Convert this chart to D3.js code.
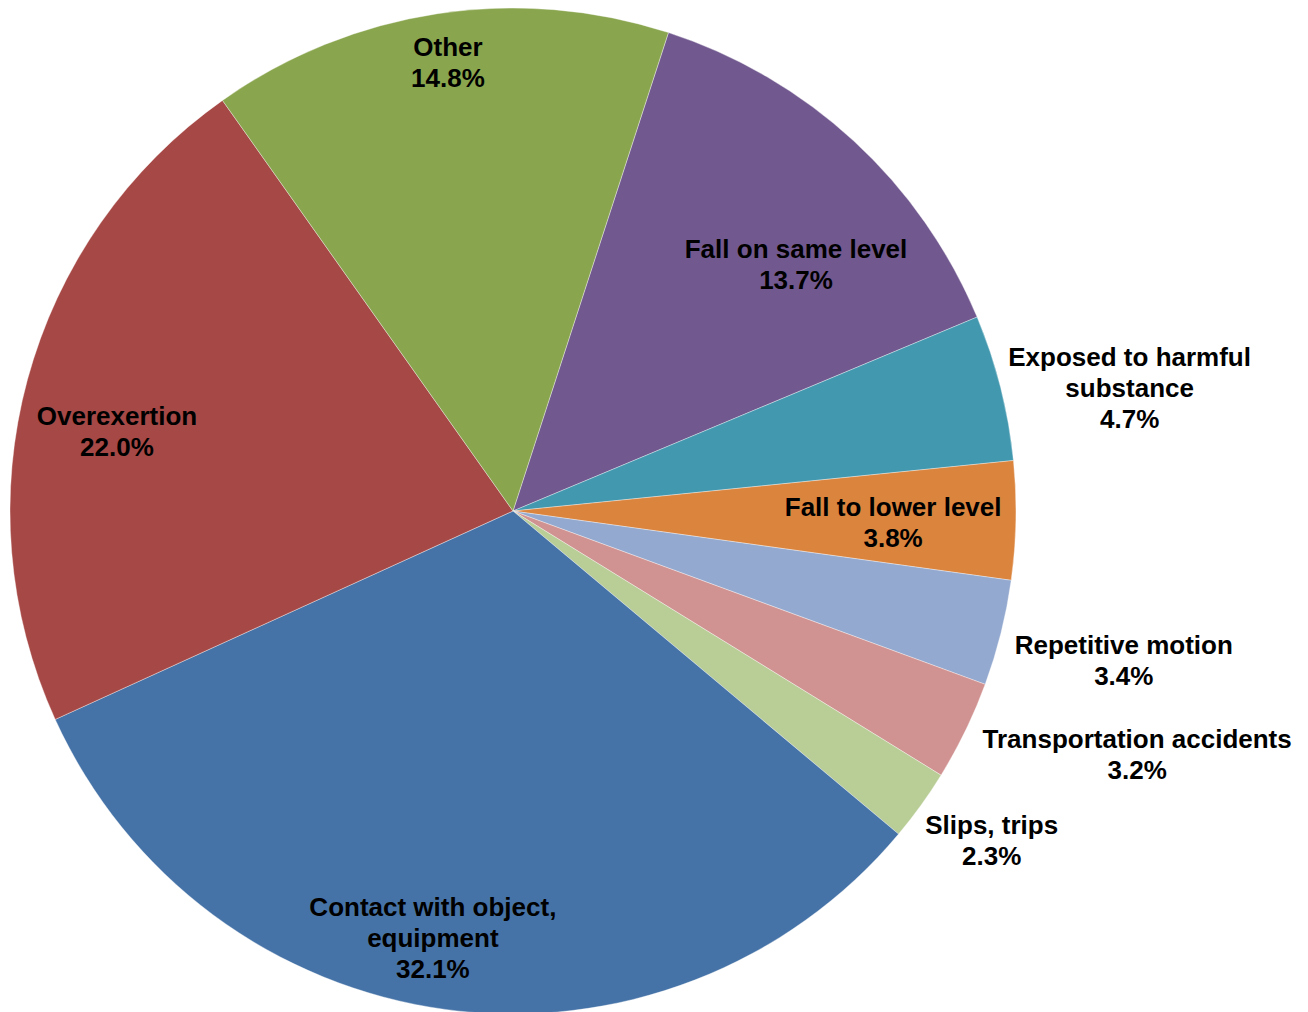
<!DOCTYPE html>
<html>
<head>
<meta charset="utf-8">
<script src="https://cdn.jsdelivr.net/npm/d3@7"></script>
<style>
  html, body { margin: 0; padding: 0; background: #fff; }
  svg { display: block; }
  .lbl { font-family: "Liberation Sans", Arial, sans-serif; font-weight: bold; font-size: 26px; fill: #000; }
</style>
</head>
<body>
<svg id="chart"></svg>
<script>
// slices, clockwise from the first slice angle
var categories = ["Fall on same level", "Exposed to harmful substance", "Fall to lower level",
                  "Repetitive motion", "Transportation accidents", "Slips, trips",
                  "Contact with object, equipment", "Overexertion", "Other"];
var values = [13.7, 4.7, 3.8, 3.4, 3.2, 2.3, 32.1, 22.0, 14.8];
var labelLines = [["Fall on same level"], ["Exposed to harmful", "substance"], ["Fall to lower level"],
                  ["Repetitive motion"], ["Transportation accidents"], ["Slips, trips"],
                  ["Contact with object,", "equipment"], ["Overexertion"], ["Other"]];
var colors = ["#71598F", "#4298AF", "#DB843D", "#93A9CF", "#D19392", "#B9CD96",
              "#4673A7", "#A64845", "#89A54E"];

// label placement: angle shift from slice middle (deg), distance as share of radius
var labelShift = [6.3, 2.95, 0.6, -0.3, -4.6, -1.3, 2.9, -3.8, 0.4];
var labelDist  = [0.746, 1.25, 0.756, 1.25, 1.332, 1.155, 0.863, 0.803, 0.902];

var W = 1308, H = 1012,
    cx = 513, cy = 511,
    R = 503,
    lineH = 31,
    rad = Math.PI / 180;

var svg = d3.select("#chart").attr("width", W).attr("height", H);
var g = svg.append("g").attr("transform", "translate(" + cx + "," + cy + ")");

var pie = d3.pie()
    .sort(null)
    .value(function(d) { return d; })
    .startAngle(18 * rad)
    .endAngle(378 * rad);

var arcs = pie(values);

var arc = d3.arc().innerRadius(0).outerRadius(R);

g.selectAll(".slice")
  .data(arcs)
  .enter().append("path")
    .attr("class", "slice")
    .attr("d", arc)
    .style("fill", function(d, i) { return colors[i]; })
    .style("stroke", "#fff")
    .style("stroke-width", 0.6)
    .style("stroke-opacity", 0.6);

/*
 *    L A B E L S
 */
var labels = g.selectAll(".lbl")
  .data(arcs)
  .enter().append("text")
    .attr("class", "lbl")
    .attr("text-anchor", "middle")
    .attr("transform", function(d, i) {
      var a = (d.startAngle + d.endAngle) / 2 + labelShift[i] * rad,
          r = labelDist[i] * R;
      return "translate(" + (r * Math.sin(a)) + "," + (-r * Math.cos(a)) + ")";
    });

labels.each(function(d, i) {
  var lines = labelLines[i].concat([values[i].toFixed(1) + "%"]),
      n = lines.length,
      t = d3.select(this);
  lines.forEach(function(s, k) {
    t.append("tspan")
      .attr("x", 0)
      .attr("y", (k - (n - 1) / 2) * lineH)
      .attr("dy", "0.35em")
      .text(s);
  });
});
</script>
</body>
</html>
